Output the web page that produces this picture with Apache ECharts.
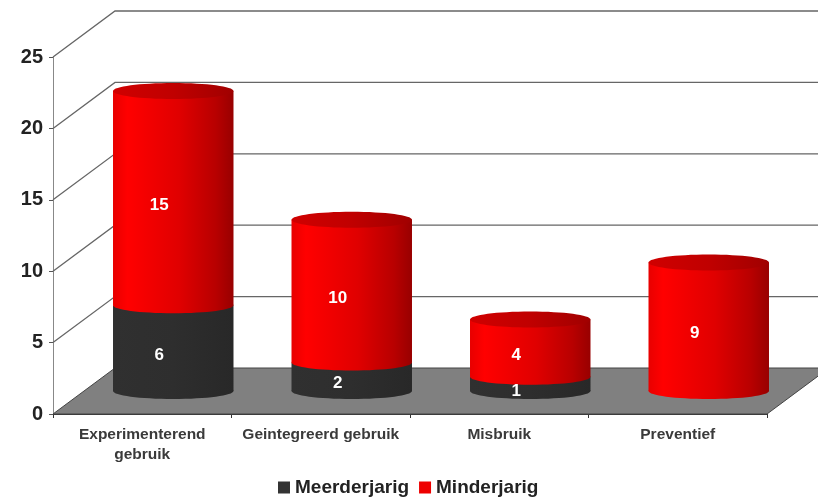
<!DOCTYPE html>
<html>
<head>
<meta charset="utf-8">
<style>
  html, body { margin: 0; padding: 0; background: #fff; }
  #chart { width: 818px; height: 499px; }
</style>
<script src="https://cdn.jsdelivr.net/npm/echarts@6/dist/echarts.min.js"></script>
</head>
<body>
<div id="chart"></div>
<script>
var categories = ["Experimenterend\ngebruik", "Geintegreerd gebruik", "Misbruik", "Preventief"];
var meerderjarig = [6, 2, 1, 0];
var minderjarig = [15, 10, 4, 9];
var yTicks = [0, 5, 10, 15, 20, 25];

// fake 3d: how far the back wall sits behind the front plane
var DEPTH_X = 62;
var DEPTH_Y = 46;
var BAR_RATIO = 0.675;
var RY = 8;

var chart = echarts.init(document.getElementById("chart"));

function hGrad(stops) {
  return new echarts.graphic.LinearGradient(0, 0, 1, 0, stops);
}
var redBody = [
  { offset: 0, color: "#e80000" },
  { offset: 0.12, color: "#ff0000" },
  { offset: 0.55, color: "#e00000" },
  { offset: 0.85, color: "#b80000" },
  { offset: 1, color: "#980000" }
];
var redTop = [
  { offset: 0, color: "#d00000" },
  { offset: 0.5, color: "#c00000" },
  { offset: 1, color: "#a00000" }
];
var darkBody = [
  { offset: 0, color: "#303030" },
  { offset: 0.5, color: "#2e2e2e" },
  { offset: 1, color: "#282828" }
];

// floor + wall lines, one item per y tick
function renderWall(params, api) {
  var v = api.value(0);
  var cs = params.coordSys;
  var y = api.coord([0, v])[1];
  var left = cs.x;
  var right = cs.x + cs.width;
  var children = [];
  if (v === 0) {
    children.push({
      type: "polygon",
      shape: { points: [[left, y], [right, y], [right + DEPTH_X, y - DEPTH_Y], [left + DEPTH_X, y - DEPTH_Y]] },
      style: { fill: "#808080", stroke: "#444", lineWidth: 1 }
    });
  } else {
    children.push({
      type: "polyline",
      shape: { points: [[left, y], [left + DEPTH_X, y - DEPTH_Y], [right + DEPTH_X, y - DEPTH_Y]] },
      style: { fill: "none", stroke: "#666", lineWidth: 1.3 }
    });
  }
  return { type: "group", children: children };
}

function makeCylinder(bodyStops, topStops, isTopSeries) {
  return function (params, api) {
    var idx = api.value(0);
    var start = api.value(1);
    var end = api.value(2);
    if (end <= start) {
      return { type: "group", children: [] };
    }
    var bottom = api.coord([idx, start]);
    var top = api.coord([idx, end]);
    var rx = api.size([1, 0])[0] * BAR_RATIO / 2;
    var cx = bottom[0] + DEPTH_X / 2;
    var yb = bottom[1] - DEPTH_Y / 2;
    var yt = top[1] - DEPTH_Y / 2;
    var children = [
      { type: "ellipse", shape: { cx: cx, cy: yb, rx: rx, ry: RY }, style: { fill: hGrad(bodyStops) } },
      { type: "rect", shape: { x: cx - rx, y: yt, width: rx * 2, height: yb - yt }, style: { fill: hGrad(bodyStops) } }
    ];
    if (isTopSeries) {
      children.push({ type: "ellipse", shape: { cx: cx, cy: yt, rx: rx, ry: RY }, style: { fill: hGrad(topStops) } });
    }
    return { type: "group", children: children };
  };
}

// value labels sit above both stacks, a bit left of the cylinder axis
function renderLabel(params, api) {
  var start = api.value(1);
  var end = api.value(2);
  if (end <= start) {
    return { type: "group", children: [] };
  }
  var bottom = api.coord([api.value(0), start]);
  var top = api.coord([api.value(0), end]);
  return {
    type: "text",
    style: {
      x: bottom[0] + 17,
      y: (bottom[1] + top[1]) / 2 - DEPTH_Y / 2 + 7,
      text: String(end - start),
      fill: "#fff",
      font: "bold 17px 'Liberation Sans', Arial, sans-serif",
      align: "center",
      verticalAlign: "middle"
    }
  };
}

var darkData = categories.map(function (c, i) { return [i, 0, meerderjarig[i]]; });
var redData = categories.map(function (c, i) { return [i, meerderjarig[i], meerderjarig[i] + minderjarig[i]]; });

chart.setOption({
  animation: false,
  backgroundColor: "#fff",
  grid: { left: 53, right: 51, top: 57, bottom: 85 },
  legend: {
    data: ["Meerderjarig", "Minderjarig"],
    left: 273,
    top: 473,
    icon: "rect",
    itemWidth: 12,
    itemHeight: 12,
    itemGap: 10,
    textStyle: { fontFamily: "'Liberation Sans', Arial, sans-serif", fontWeight: "bold", fontSize: 19, color: "#222" }
  },
  xAxis: {
    type: "category",
    data: categories,
    axisLine: { show: true, lineStyle: { color: "#333" } },
    axisTick: { show: true, length: 4, lineStyle: { color: "#333" } },
    axisLabel: {
      interval: 0,
      margin: 11,
      lineHeight: 20,
      color: "#3a3a3a",
      fontSize: 15.5,
      fontWeight: "bold",
      fontFamily: "'Liberation Sans', Arial, sans-serif"
    }
  },
  yAxis: {
    type: "value",
    min: 0,
    max: 25,
    interval: 5,
    splitLine: { show: false },
    axisLine: { show: true, lineStyle: { color: "#888" } },
    axisTick: { show: true, length: 4, lineStyle: { color: "#555" } },
    axisLabel: {
      margin: 10,
      color: "#222",
      fontSize: 20,
      fontWeight: "bold",
      fontFamily: "'Liberation Sans', Arial, sans-serif"
    }
  },
  series: [
    {
      name: "wall",
      type: "custom",
      coordinateSystem: "cartesian2d",
      renderItem: renderWall,
      encode: { y: 0 },
      data: yTicks.map(function (t) { return [t]; }),
      clip: false,
      silent: true,
      z: 1
    },
    {
      name: "Meerderjarig",
      type: "custom",
      renderItem: makeCylinder(darkBody, darkBody, false),
      encode: { x: 0, y: [1, 2] },
      data: darkData,
      itemStyle: { color: "#333333" },
      clip: false,
      z: 2
    },
    {
      name: "Minderjarig",
      type: "custom",
      renderItem: makeCylinder(redBody, redTop, true),
      encode: { x: 0, y: [1, 2] },
      data: redData,
      itemStyle: { color: "#ee0000" },
      clip: false,
      z: 3
    },
    {
      name: "labels",
      type: "custom",
      renderItem: renderLabel,
      encode: { x: 0, y: [1, 2] },
      data: darkData.concat(redData),
      clip: false,
      silent: true,
      z: 4
    }
  ]
});
</script>
</body>
</html>
